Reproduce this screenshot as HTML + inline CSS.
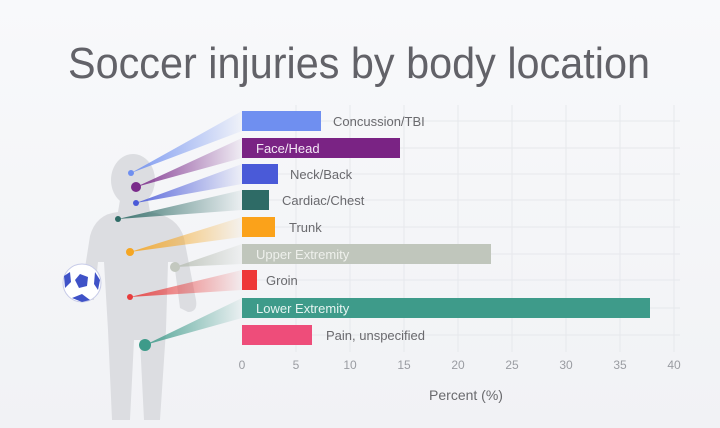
<!DOCTYPE html>
<html><head><meta charset="utf-8"><style>
html,body{margin:0;padding:0;background:#f6f7f9;}
svg{display:block;font-family:"Liberation Sans",sans-serif;}
</style></head><body>
<svg width="720" height="428" viewBox="0 0 720 428" xmlns="http://www.w3.org/2000/svg">
<defs>
<linearGradient id="bg" x1="0" y1="0" x2="0" y2="1"><stop offset="0" stop-color="#f8f9fb"/><stop offset="1" stop-color="#f1f2f5"/></linearGradient>
<linearGradient id="g1" x1="0" x2="1"><stop offset="0" stop-color="#6f8ff0" stop-opacity="0.9"/><stop offset="1" stop-color="#6f8ff0" stop-opacity="0.05"/></linearGradient>
<linearGradient id="g2" x1="0" x2="1"><stop offset="0" stop-color="#7a2a8a" stop-opacity="0.9"/><stop offset="1" stop-color="#7a2a8a" stop-opacity="0.05"/></linearGradient>
<linearGradient id="g3" x1="0" x2="1"><stop offset="0" stop-color="#4a5ad8" stop-opacity="0.9"/><stop offset="1" stop-color="#4a5ad8" stop-opacity="0.05"/></linearGradient>
<linearGradient id="g4" x1="0" x2="1"><stop offset="0" stop-color="#2e6b66" stop-opacity="0.9"/><stop offset="1" stop-color="#2e6b66" stop-opacity="0.05"/></linearGradient>
<linearGradient id="g5" x1="0" x2="1"><stop offset="0" stop-color="#f5a623" stop-opacity="0.9"/><stop offset="1" stop-color="#f5a623" stop-opacity="0.05"/></linearGradient>
<linearGradient id="g6" x1="0" x2="1"><stop offset="0" stop-color="#b9bfb5" stop-opacity="0.9"/><stop offset="1" stop-color="#b9bfb5" stop-opacity="0.1"/></linearGradient>
<linearGradient id="g7" x1="0" x2="1"><stop offset="0" stop-color="#e83b3b" stop-opacity="0.9"/><stop offset="1" stop-color="#e83b3b" stop-opacity="0.05"/></linearGradient>
<linearGradient id="g8" x1="0" x2="1"><stop offset="0" stop-color="#3e9b8a" stop-opacity="0.9"/><stop offset="1" stop-color="#3e9b8a" stop-opacity="0.05"/></linearGradient>
</defs>
<rect width="720" height="428" fill="url(#bg)"/>
<text x="359" y="78" text-anchor="middle" font-size="44" fill="#626268" textLength="582" lengthAdjust="spacingAndGlyphs">Soccer injuries by body location</text>
<g stroke="#e6e8ec" stroke-width="1">
<line x1="296" y1="105" x2="296" y2="352"/><line x1="350" y1="105" x2="350" y2="352"/><line x1="404" y1="105" x2="404" y2="352"/><line x1="458" y1="105" x2="458" y2="352"/><line x1="512" y1="105" x2="512" y2="352"/><line x1="566" y1="105" x2="566" y2="352"/><line x1="620" y1="105" x2="620" y2="352"/><line x1="674" y1="105" x2="674" y2="352"/>
<line x1="242" y1="121" x2="680" y2="121"/><line x1="242" y1="148" x2="680" y2="148"/><line x1="242" y1="174" x2="680" y2="174"/><line x1="242" y1="200" x2="680" y2="200"/><line x1="242" y1="227" x2="680" y2="227"/><line x1="242" y1="254" x2="680" y2="254"/><line x1="242" y1="280" x2="680" y2="280"/><line x1="242" y1="308" x2="680" y2="308"/><line x1="242" y1="335" x2="680" y2="335"/>
</g>
<g fill="#dcdde1">
<ellipse cx="133" cy="180" rx="22" ry="26"/>
<path d="M120 200 L148 200 L150 212 Q178 216 184 238 L196 300 Q198 312 188 312 L180 308 L174 262 L168 262 L166 330 L160 420 L144 420 L140 340 L134 340 L130 420 L112 420 L108 330 L104 262 L98 262 L94 300 L80 300 L90 236 Q96 214 118 212 Z"/>
</g>
<polygon points="131,173 242,111 242,131" fill="url(#g1)"/>
<polygon points="136,187 242,138 242,158" fill="url(#g2)"/>
<polygon points="136,203 242,164 242,184" fill="url(#g3)"/>
<polygon points="118,219 242,190 242,210" fill="url(#g4)"/>
<polygon points="130,252 242,217 242,237" fill="url(#g5)"/>
<polygon points="175,267 242,244 242,264" fill="url(#g6)"/>
<polygon points="130,297 242,270 242,290" fill="url(#g7)"/>
<polygon points="145,345 242,298 242,318" fill="url(#g8)"/>
<circle cx="131" cy="173" r="3" fill="#6f8ff0"/>
<circle cx="136" cy="187" r="5" fill="#7a2a8a"/>
<circle cx="136" cy="203" r="3" fill="#4a5ad8"/>
<circle cx="118" cy="219" r="3" fill="#2e6b66"/>
<circle cx="130" cy="252" r="4" fill="#f5a623"/>
<circle cx="175" cy="267" r="5" fill="#c3c8bf"/>
<circle cx="130" cy="297" r="3" fill="#e83b3b"/>
<circle cx="145" cy="345" r="6" fill="#3e9b8a"/>
<circle cx="82" cy="283" r="19" fill="#fff" stroke="#c7cbe8" stroke-width="1"/>
<polygon points="80,274 88,277 87,286 79,288 75,280" fill="#3f52c7"/>
<path d="M64 276 L70 272 L71 282 L65 288 Z" fill="#3f52c7"/>
<path d="M72 298 L82 294 L90 300 L82 302 Z" fill="#3f52c7"/>
<path d="M95 272 L100 280 L98 290 L94 284 Z" fill="#3f52c7"/>
<rect x="242" y="111" width="79" height="20" fill="#6f8ff0"/>
<rect x="242" y="138" width="158" height="20" fill="#7a2384"/>
<rect x="242" y="164" width="36" height="20" fill="#4a5ad8"/>
<rect x="242" y="190" width="27" height="20" fill="#2e6b66"/>
<rect x="242" y="217" width="33" height="20" fill="#fba21a"/>
<rect x="242" y="244" width="249" height="20" fill="#c0c6bc"/>
<rect x="242" y="270" width="15" height="20" fill="#ee3838"/>
<rect x="242" y="298" width="408" height="20" fill="#3e9b8a"/>
<rect x="242" y="325" width="70" height="20" fill="#ee4d7a"/>
<g font-size="13" fill="#6a6a6e">
<text x="333" y="126">Concussion/TBI</text>
<text x="256" y="153" fill="#f4e8f6">Face/Head</text>
<text x="290" y="179">Neck/Back</text>
<text x="282" y="205">Cardiac/Chest</text>
<text x="289" y="232">Trunk</text>
<text x="256" y="259" fill="#eef0ec">Upper Extremity</text>
<text x="266" y="285">Groin</text>
<text x="256" y="313" fill="#e6f4f1">Lower Extremity</text>
<text x="326" y="340">Pain, unspecified</text>
</g>
<g font-size="12" fill="#9a9ca2" text-anchor="middle">
<text x="242" y="369">0</text><text x="296" y="369">5</text><text x="350" y="369">10</text><text x="404" y="369">15</text><text x="458" y="369">20</text><text x="512" y="369">25</text><text x="566" y="369">30</text><text x="620" y="369">35</text><text x="674" y="369">40</text>
</g>
<text x="466" y="400" text-anchor="middle" font-size="14" fill="#6a6a6e">Percent (%)</text>
</svg>
</body></html>
